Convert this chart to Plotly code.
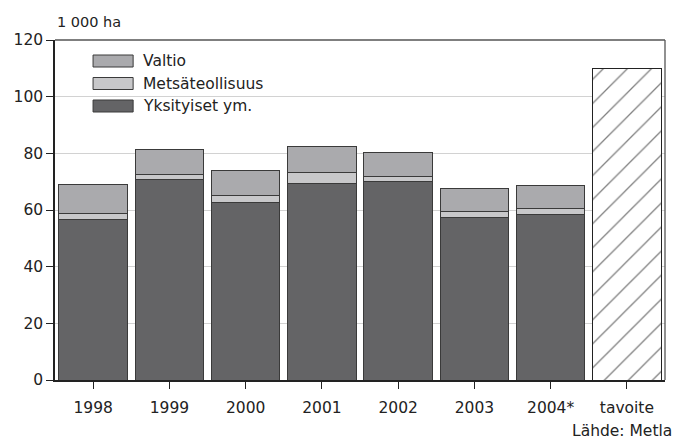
import plotly.graph_objects as go

categories = ["1998", "1999", "2000", "2001", "2002", "2003", "2004*"]
yksityiset = [56.8, 70.9, 62.5, 69.2, 70.2, 57.2, 58.5]
metsateollisuus = [2.0, 1.6, 2.6, 3.9, 1.8, 2.1, 2.0]
valtio = [10.3, 8.7, 9.0, 9.4, 8.2, 8.2, 8.2]
target_label = ["tavoite"]
target_value = [110]
all_categories = categories + target_label
y_ticks = [0, 20, 40, 60, 80, 100, 120]

legend_names = ["Valtio", "Metsäteollisuus", "Yksityiset ym."]
colors = {"Yksityiset ym.": "#646466", "Metsäteollisuus": "#c8c8ca", "Valtio": "#aaaaad"}

FONT = "DejaVu Sans, Verdana, sans-serif"
FS = 15.5
TXT = "#222222"

fig = go.Figure()
for name, vals in [("Yksityiset ym.", yksityiset), ("Metsäteollisuus", metsateollisuus), ("Valtio", valtio)]:
    fig.add_trace(go.Bar(
        x=categories, y=vals, name=name, width=0.9,
        marker=dict(color=colors[name], line=dict(color="#3a3a3a", width=1)),
        showlegend=False,
    ))

fig.add_trace(go.Bar(
    x=target_label, y=target_value, name="tavoite", width=0.9,
    marker=dict(color="white", line=dict(color="#222222", width=1),
                pattern=dict(shape="/", fgcolor="#000000", bgcolor="white", size=17, solidity=0.075)),
    showlegend=False,
))

# Manual legend (wide swatches like the reference)
shapes = []
annotations = []
legend_top = 1 - (61 - 40) / 340
row_h = 22.5 / 340
for i, name in enumerate(legend_names):
    yc = legend_top - i * row_h
    shapes.append(dict(type="rect", xref="paper", yref="paper",
                       x0=(93 - 55) / 609, x1=(133 - 55) / 609,
                       y0=yc - 6 / 340, y1=yc + 6 / 340,
                       fillcolor=colors[name], line=dict(color="#3a3a3a", width=1)))
    annotations.append(dict(xref="paper", yref="paper", x=(141 - 55) / 609, y=yc,
                            text=name, showarrow=False, xanchor="left", yanchor="middle",
                            font=dict(family=FONT, size=FS, color=TXT)))

# top and right frame lines
shapes.append(dict(type="line", xref="paper", yref="paper", x0=0, x1=1, y0=1, y1=1,
                   line=dict(color="#555555", width=1.3)))
shapes.append(dict(type="line", xref="paper", yref="paper", x0=1, x1=1, y0=0, y1=1,
                   line=dict(color="#555555", width=1.3)))

annotations.append(dict(xref="paper", yref="paper", x=0, y=1.0 + 8 / 340,
                        text="1 000 ha", showarrow=False, xanchor="left", yanchor="bottom",
                        font=dict(family=FONT, size=FS - 1, color=TXT)))
annotations.append(dict(xref="paper", yref="paper", x=(673 - 55) / 609, y=-(420 - 380) / 340,
                        text="Lähde: Metla", showarrow=False, xanchor="right", yanchor="top",
                        font=dict(family=FONT, size=FS, color=TXT)))

fig.update_layout(
    width=674, height=441,
    margin=dict(l=55, r=9, t=40, b=61),
    paper_bgcolor="white", plot_bgcolor="white",
    barmode="stack",
    font=dict(family=FONT, size=FS, color=TXT),
    shapes=shapes, annotations=annotations,
    showlegend=False,
)
fig.update_xaxes(
    categoryorder="array", categoryarray=all_categories, range=[-0.5, 7.5],
    showline=True, linecolor="#222222", linewidth=1.5,
    ticks="outside", ticklen=7, tickcolor="#222222", tickwidth=1,
    ticklabelstandoff=6,
    showgrid=False, tickfont=dict(family=FONT, size=FS, color=TXT),
)
fig.update_yaxes(
    range=[0, 120], tickvals=y_ticks,
    showline=True, linecolor="#222222", linewidth=1.5,
    ticks="outside", ticklen=7, tickcolor="#222222", tickwidth=1,
    showgrid=True, gridcolor="#d2d2d2", gridwidth=1, zeroline=False,
    tickfont=dict(family=FONT, size=FS, color=TXT),
)

fig.write_html("out.html", config={"displayModeBar": False},
               post_script="document.body.style.margin='0';document.body.style.padding='0';")
